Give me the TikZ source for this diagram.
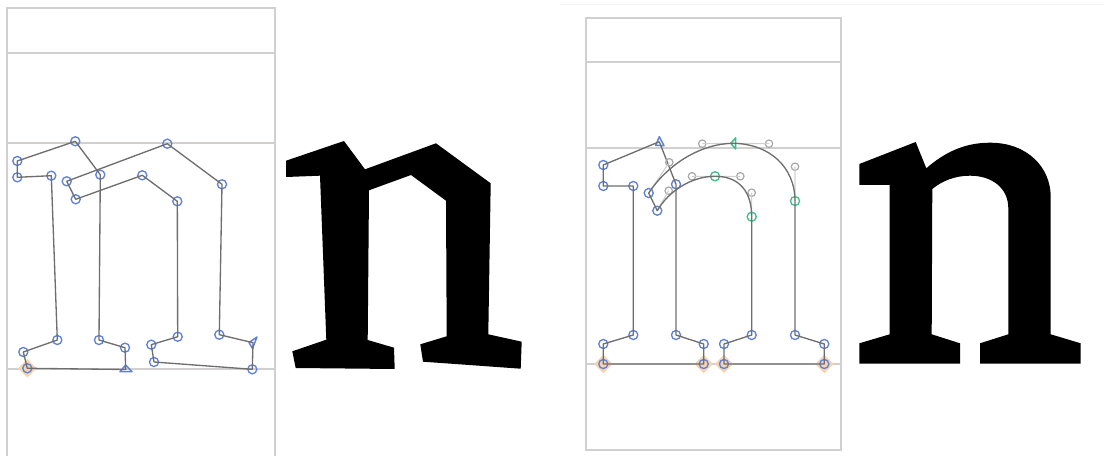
\documentclass[tikz,border=0pt]{standalone}
\usetikzlibrary{shapes.geometric}
\definecolor{ptblue}{HTML}{5F82D6}
\definecolor{ptgreen}{HTML}{3CC08A}
\definecolor{hgray}{HTML}{A8A8A8}
\definecolor{framegray}{HTML}{D2D0CE}
\definecolor{linegray}{HTML}{6E6E6E}
\definecolor{halo}{HTML}{F5D3B3}
\tikzset{
 frameline/.style={draw=framegray,line width=0.85pt},
 contour/.style={draw=linegray,line width=1pt,line join=round},
 handleline/.style={draw=framegray,line width=0.8pt},
 corner/.style={circle,draw=ptblue,line width=1pt,minimum size=6.8pt,inner sep=0pt},
 smooth pt/.style={circle,draw=ptgreen,line width=1pt,minimum size=6.8pt,inner sep=0pt},
 handle/.style={circle,draw=hgray,line width=0.9pt,minimum size=5.6pt,inner sep=0pt},
 halomark/.style={diamond,fill=halo,minimum size=14pt,inner sep=0pt},
 triblue/.style={draw=ptblue,line width=1.1pt,line join=round},
 trigreen/.style={draw=ptgreen,line width=1.1pt,line join=round},
 glyph/.style={fill=black,draw=none}
}
\begin{document}
\begin{tikzpicture}[x=0.75pt,y=-0.75pt]
\useasboundingbox (0,0) rectangle (1104,456);
% ---- left frame
\draw[frameline] (7,456) -- (7,8) -- (275,8) -- (275,456);
\draw[frameline] (7,53) -- (275,53);
\draw[frameline] (7,143) -- (275,143);
\draw[frameline] (7,369) -- (275,369);
% ---- right frame
\draw[draw=framegray!25,line width=0.5pt] (560,4) -- (1104,4);
\draw[frameline] (586,18) rectangle (841,450);
\draw[frameline] (586,62) -- (841,62);
\draw[frameline] (586,148) -- (841,148);
\draw[frameline] (586,364) -- (841,364);
% ---- halos
\foreach \p in {(27.3,368.3),(603.3,364),(703.7,364),(724,364),(824.3,364)}
  \node[halomark] at \p {};
% ---- left outline points
\node[corner] (a1) at (75.3,141.3) {};
\node[corner] (a2) at (17.3,161) {};
\node[corner] (a3) at (17.3,177.3) {};
\node[corner] (a4) at (51.3,175.7) {};
\node[corner] (a5) at (57.3,340) {};
\node[corner] (a6) at (23.3,352) {};
\node[corner] (a7) at (27.3,368.3) {};
\coordinate (a8) at (125.7,369.5);
\draw[triblue] (125.7,365)--(120,371.7)--(132,371.7)--cycle;
\node[corner] (a9) at (125,347.7) {};
\node[corner] (a10) at (99,340) {};
\node[corner] (a11) at (100.3,174.7) {};
\draw[contour] (a1.center)--(a2.center)--(a3.center)--(a4.center)--(a5.center)--(a6.center)--(a7.center)--(a8)--(a9.center)--(a10.center)--(a11.center)--(a1.center);
\node[corner] (b1) at (66.7,181.3) {};
\node[corner] (b2) at (167.3,143.7) {};
\node[corner] (b3) at (222,184.3) {};
\node[corner] (b4) at (219.3,334.7) {};
\coordinate (b5) at (253,342.7);
\draw[triblue] (257,337)--(249,342.5)--(252.5,348.5)--cycle;
\node[corner] (b6) at (252.3,369.3) {};
\node[corner] (b7) at (154,362) {};
\node[corner] (b8) at (151.3,344.7) {};
\node[corner] (b9) at (177.7,336.7) {};
\node[corner] (b10) at (177.3,201.3) {};
\node[corner] (b11) at (142.3,175.3) {};
\node[corner] (b12) at (75.7,199.3) {};
\draw[contour] (b1.center)--(b2.center)--(b3.center)--(b4.center)--(b5)--(b6.center)--(b7.center)--(b8.center)--(b9.center)--(b10.center)--(b11.center)--(b12.center)--(b1.center);
% ---- left glyph
\fill[glyph] (286,160.7)--(344,141)--(365,169.3)--(436,143.3)--(490.7,183.3)--(488.3,334.3)--(521.7,341.7)--(520.7,368.7)--(423,361.7)--(420.3,344.3)--(446.7,336.3)--(446,200.7)--(411,175)--(369,190.3)--(367.7,340)--(394,347.7)--(394.7,369)--(295.7,368)--(292.3,351.3)--(326.3,339.7)--(320,175.7)--(286,177)--cycle;
% ---- right outline points
\coordinate (c1) at (659.3,141.7);
\draw[triblue] (659.3,136.7)--(655.7,145.3)--(664,145.7)--cycle;
\node[corner] (c2) at (603.3,165) {};
\node[corner] (c3) at (603.3,186) {};
\node[corner] (c4) at (633.3,186) {};
\node[corner] (c5) at (633.3,335) {};
\node[corner] (c6) at (603.3,344) {};
\node[corner] (c7) at (603.3,364) {};
\node[corner] (c8) at (703.7,364) {};
\node[corner] (c9) at (703.7,344) {};
\node[corner] (c10) at (676,335) {};
\node[corner] (c11) at (676,184.3) {};
\draw[contour] (c1)--(c2.center)--(c3.center)--(c4.center)--(c5.center)--(c6.center)--(c7.center)--(c8.center)--(c9.center)--(c10.center)--(c11.center)--(c1);
\node[corner] (d1) at (648.7,193) {};
\node[handle] (h1) at (669.3,162.3) {};
\node[handle] (h2) at (702.3,143.7) {};
\coordinate (d2) at (733,143.3);
\draw[trigreen] (730.7,143.3)--(735.7,137.8)--(735.7,149)--cycle;
\node[handle] (h3) at (769,143.7) {};
\node[handle] (h4) at (795,166.7) {};
\node[smooth pt] (d3) at (795,201) {};
\node[corner] (d4) at (795,335) {};
\node[corner] (d5) at (824.3,344) {};
\node[corner] (d6) at (824.3,364) {};
\node[corner] (d7) at (724,364) {};
\node[corner] (d8) at (724,344) {};
\node[corner] (d9) at (751.7,335) {};
\node[smooth pt] (d10) at (751.7,216.7) {};
\node[handle] (h5) at (751.7,192.7) {};
\node[handle] (h6) at (740.3,176.3) {};
\node[smooth pt] (d11) at (715,176.3) {};
\node[handle] (h7) at (692,176.3) {};
\node[handle] (h8) at (668.7,190.7) {};
\node[corner] (d12) at (657.3,210.7) {};
\draw[handleline] (d1.center)--(h1.center) (h2.center)--(d2)--(h3.center) (h4.center)--(d3.center)
  (d10.center)--(h5.center) (h6.center)--(d11.center)--(h7.center) (h8.center)--(d12.center);
\draw[contour] (d1.center) .. controls (h1.center) and (h2.center) .. (d2)
  .. controls (h3.center) and (h4.center) .. (d3.center)
  -- (d4.center)--(d5.center)--(d6.center)--(d7.center)--(d8.center)--(d9.center)--(d10.center)
  .. controls (h5.center) and (h6.center) .. (d11.center)
  .. controls (h7.center) and (h8.center) .. (d12.center) -- (d1.center);
% ---- right glyph
\fill[glyph] (859.3,164)--(915.7,142)--(926.3,168.3)
  .. controls (945,152) and (965,142.7) .. (990,142.7)
  .. controls (1028,142.7) and (1050.7,168) .. (1050.7,196.7)
  --(1050.7,334.3)--(1080.7,343.3)--(1080.7,363.7)--(980,363.7)--(980,343.3)--(1008.3,334.3)--(1008.3,208.3)
  .. controls (1008.3,188) and (992,175.7) .. (970,175.7)
  .. controls (955,175.7) and (942,181) .. (932.3,189)
  --(931.7,334.3)--(960,343.3)--(960,363.7)--(859.3,363.7)--(859.3,343.3)--(889.7,334.3)--(889.7,185)--(859.3,185)--cycle;
\end{tikzpicture}
\end{document}
